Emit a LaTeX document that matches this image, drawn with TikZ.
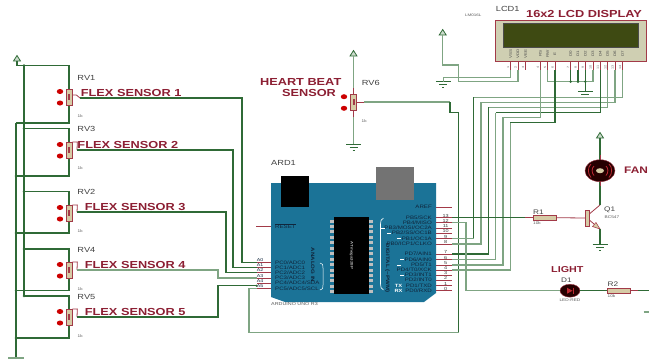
\documentclass[tikz,border=0pt]{standalone}
\usetikzlibrary{shapes.geometric}
\usepackage{fontspec}
\setmainfont[FakeStretch=1.25]{Liberation Sans}
\definecolor{wirecol}{HTML}{2F6A36}
\definecolor{palecol}{HTML}{7FA583}
\definecolor{pincol}{HTML}{A23A48}
\definecolor{titlecol}{HTML}{8C1F33}
\definecolor{bodycol}{HTML}{D6CBA6}
\definecolor{boardcol}{HTML}{1B7397}
\definecolor{boardtext}{HTML}{10263C}
\definecolor{lcdcol}{HTML}{CFCFB2}
\definecolor{screencol}{HTML}{3E4A12}
\begin{document}
\begin{tikzpicture}[
    x=1pt, y=-1pt,
  wire/.style={wirecol, line width=1.1pt},
  palewire/.style={palecol, line width=1.3pt},
  pin/.style={pincol, line width=.8pt},
  potbody/.style={rectangle, draw=pincol, fill=bodycol, line width=.7pt, minimum width=6pt, minimum height=16pt, inner sep=0pt},
  resbody/.style={rectangle, draw=pincol, fill=bodycol, line width=.7pt, minimum width=23pt, minimum height=4.5pt, inner sep=0pt},
  title/.style={text=titlecol, font=\bfseries\fontsize{10.2}{11}\selectfont, inner sep=0pt},
  partname/.style={text=black!75, font=\fontsize{7.4}{8}\selectfont, inner sep=0pt},
  partvalue/.style={text=black!65, font=\fontsize{3.8}{4}\selectfont, inner sep=0pt},
  boardlabel/.style={text=boardtext, font=\fontsize{4.9}{5}\selectfont, inner sep=0pt},
  gndmark/.pic={
    \draw[wirecol, line width=.9pt] (-7.5,0) -- (7.5,0);
    \draw[wirecol, line width=.7pt] (-4,3) -- (4,3);
    \draw[wirecol, line width=.7pt] (-1,6) -- (1,6);
  },
  powermark/.pic={
    \draw[wirecol, line width=.8pt, fill=palecol!40] (-3.5,0) -- (0,-5.5) -- (3.5,0) -- cycle;
  }
]
\useasboundingbox (0,0) rectangle (649,360);

% Rails and power marks
\coordinate (vcca) at (17,61);
\coordinate (gnda) at (16,358);
\coordinate (railb) at (24,65.5);
\coordinate (railc) at (24,296);
\coordinate (raild) at (16,123);
\pic at (vcca) {powermark};
\draw[wire] (vcca) |- (railb);
\draw[wire] (railb) -- (railc);
\draw[wire] (raild) -- (gnda);
\draw[palecol, line width=1.1pt] (8,358) -- (24,358);

% Flex sensor pots
\foreach \name/\ypos/\toprow/\botrow/\tag/\tagy/\valy in {
    rva/97/65.5/123/RV1/77.7/116,
    rvc/150/128.7/176/RV3/129.3/168,
    rvb/213/191.7/233/RV2/192.3/231,
    rvd/270/249/290.6/RV4/250/289,
    rve/317/296/338/RV5/297.3/335.7}{
  \coordinate (\name t) at (24,\toprow);
  \coordinate (\name b) at (16,\botrow);
  \draw[wire] (69,\ypos) |- (\name t);
  \draw[wire] (69,\ypos) |- (\name b);
  \node[potbody] (\name) at (69,\ypos) {};
  \fill[pincol] (68,\ypos-3) rectangle (70,\ypos+3);
  \fill[red!80!black] (60,\ypos-5.5) ellipse (3.2pt and 2.5pt);
  \fill[red!80!black] (60,\ypos+6) ellipse (3.2pt and 2.5pt);
  \node[partname, anchor=west] (\name tag) at (77.3,\tagy) {\tag};
  \node[partvalue, anchor=west] (\name val) at (77.5,\valy) {1k};
  \fill[wirecol] (\name t) circle (1.3pt);
}
\foreach \name in {rvc,rvb,rvd,rve}{
  \fill[wirecol] (\name b) circle (1.3pt);
}

% Heart beat pot
\coordinate (vccb) at (353.5,56);
\coordinate (gndb) at (353.5,144.3);
\node[potbody] (rvf) at (353.5,102.5) {};
\fill[pincol] (352.5,99) rectangle (354.5,105);
\fill[red!80!black] (344,96.7) ellipse (3.2pt and 2.5pt);
\fill[red!80!black] (344,108.3) ellipse (3.2pt and 2.5pt);
\pic at (vccb) {powermark};
\pic at (gndb) {gndmark};
\draw[palewire] (rvf.north) -- (vccb);
\draw[palewire] (rvf.south) -- (gndb);
\draw[pin] (rvf.north) -- ++(0,-6);
\draw[pin] (rvf.south) -- ++(0,6);
\node[partname, anchor=west] (rvftag) at (361.7,82.7) {RV6};
\node[partvalue, anchor=west] (rvfval) at (361.5,121) {1k};
\node[title] (hearta) at (300.7,82) {HEART BEAT};
\node[title] (heartb) at (309,92.5) {SENSOR};

% Sensor titles
\node[title, anchor=west] (flexa) at (80.7,92.7) {FLEX SENSOR 1};
\node[title, anchor=west] (flexb) at (77.3,145) {FLEX SENSOR 2};
\node[title, anchor=west] (flexc) at (84.7,207.3) {FLEX SENSOR 3};
\node[title, anchor=west] (flexd) at (84.7,264.7) {FLEX SENSOR 4};
\node[title, anchor=west] (flexe) at (84.7,312.3) {FLEX SENSOR 5};

% Arduino board
\fill[boardcol] (271,183) -- (436,183) -- (436,293) -- (424,302) -- (285,302) -- (271,297) -- cycle;
\node[rectangle, fill=black, minimum width=28pt, minimum height=31.5pt, inner sep=0pt] (jack) at (295,191.7) {};
\node[rectangle, fill=black!55, minimum width=38.5pt, minimum height=33pt, inner sep=0pt] (usb) at (395,183.5) {};
\node[rectangle, fill=black, minimum width=35pt, minimum height=77pt, inner sep=0pt] (chip) at (351.5,255.5) {};
\node[text=white, rotate=-90, font=\fontsize{3.6}{4}\selectfont, inner sep=0pt] (chiptext) at (351.5,255.5) {ATmega328P};
\foreach \k in {0,...,13}{
  \fill[black!25] (330,219.5+\k*5.45) rectangle (334,222.5+\k*5.45);
  \fill[black!25] (369,219.5+\k*5.45) rectangle (373,222.5+\k*5.45);
}
\node[partname, anchor=west] (ardtag) at (271,163.3) {ARD1};
\node[partvalue, anchor=west, font=\fontsize{4.3}{5}\selectfont] (ardname) at (271,304.5) {ARDUINO UNO R3};
\node[boardlabel, rotate=-90, font=\bfseries\fontsize{4.9}{5}\selectfont] (analog) at (312.7,265) {ANALOG IN};
\node[boardlabel, rotate=-90, font=\bfseries\fontsize{4.9}{5}\selectfont] (digital) at (387.3,268) {DIGITAL (\textasciitilde PWM)};
\draw[white, line width=.5pt] (320,263) .. controls (323,263) and (323,265) .. (323,268) -- (323,285) .. controls (323,288) and (323,290) .. (320,290);
\draw[white, line width=.6pt] (383.5,218) .. controls (381,219) and (380.5,221) .. (380.5,224) -- (380.5,284) .. controls (380.5,287) and (381,289) .. (383.5,290);

% Analog side
\node[boardlabel, anchor=west] (reset) at (275,226) {$\overline{\mbox{RESET}}$};
\coordinate (resetpin) at (256,226);
\draw[pin] (resetpin) -- (271,226);
\foreach \n/\ypos/\txt in {
    0/262.6/{PC0/ADC0},
    1/267.7/{PC1/ADC1},
    2/272.7/{PC2/ADC2},
    3/278/{PC3/ADC3},
    4/283/{PC4/ADC4/SDA},
    5/288.3/{PC5/ADC5/SCL}}{
  \coordinate (a\n) at (257,\ypos);
  \draw[pin] (a\n) -- (271,\ypos);
  \node[boardlabel, anchor=west] (pc\n) at (275,\ypos) {\txt};
  \node[boardlabel, font=\fontsize{4.2}{5}\selectfont] (atag\n) at (260,\ypos-2.4) {A\n};
}

% Digital side
\coordinate (aref) at (452,207);
\draw[pin] (436,207) -- (aref);
\node[boardlabel, anchor=east] (areftag) at (432,207) {AREF};
\foreach \n/\ypos/\txt in {
    13/217.7/{PB5/SCK},
    12/222.7/{PB4/MISO},
    11/228/{PB3/MOSI/OC2A},
    10/233/{PB2/SS/OC1B},
    9/238.7/{PB1/OC1A},
    8/244/{PB0/ICP1/CLKO},
    7/254/{PD7/AIN1},
    6/259.7/{PD6/AIN0},
    5/265/{PD5/T1},
    4/270/{PD4/T0/XCK},
    3/275/{PD3/INT1},
    2/280/{PD2/INT0},
    1/285.7/{PD1/TXD},
    0/290.7/{PD0/RXD}}{
  \coordinate (d\n) at (452,\ypos);
  \draw[pin] (436,\ypos) -- (d\n);
  \node[boardlabel, anchor=east] (pd\n) at (432,\ypos) {\txt};
  \node[boardlabel, text=black!75, font=\fontsize{4.4}{5}\selectfont] (dtag\n) at (445.7,\ypos-2.2) {\n};
}
\node[text=white, font=\bfseries\fontsize{4.6}{5}\selectfont, inner sep=0pt] (txtag) at (398.5,285.7) {TX};
\node[text=white, font=\bfseries\fontsize{4.6}{5}\selectfont, inner sep=0pt] (rxtag) at (398.5,290.9) {RX};
\foreach \xpos/\ypos in {383/228,389/233,399/238.7,402/259.7,399/265,402/275}{
  \draw[white, line width=.6pt] (\xpos-1.7,\ypos) -- (\xpos+1.7,\ypos);
}

% Sensor wires
\coordinate (wipa) at (80,98);
\coordinate (wipb) at (77,150);
\coordinate (wipc) at (77,212);
\coordinate (wipd) at (77,270);
\coordinate (wipe) at (77,317);
\draw[pin] (rva.east) ++(0,-2) -- ++(4,0) -- (wipa);
\draw[pin] (rvc.east) ++(0,-8) -- ++(5,0) -- (wipb);
\draw[pin] (rvb.east) ++(0,-8) -- ++(5,0) -- (wipc);
\draw[pin] (rvd.east) ++(0,-8) -- ++(5,0) -- (wipd);
\draw[pin] (rve.east) ++(0,-8) -- ++(5,0) -- (wipe);
\draw[wire] (wipa) -| (242,262.6) -- (a0);
\draw[wire] (wipb) -| (233,267.7) -- (a1);
\draw[wire] (wipc) -| (226,272.7) -- (a2);
\draw[palewire] (wipd) -| (218,278) -- (a3);
\draw[wire] (wipe) -| (218,285.7) -- (257,285.7);
\fill[wirecol] (256.5,285.7) circle (1.2pt);

% Heart beat wire
\draw[pin] (rvf.east) -- ++(8,0);
\draw[palewire] (364,102) -- (450,102);
\draw[wire] (450,102) |- (458.7,112.7) -- (458.7,332.7);
\draw[palewire] (458.7,332.7) -| (249,288.3) -- (a5);

% LCD
\node[rectangle, draw=pincol, fill=lcdcol, line width=.8pt, minimum width=151pt, minimum height=41pt, inner sep=0pt] (lcd) at (570.5,40.5) {};
\node[rectangle, draw=black!70, fill=screencol, minimum width=135pt, minimum height=24pt, inner sep=0pt] (screen) at (570.3,34.7) {};
\node[partname, anchor=west] (lcdtag) at (495.7,9) {LCD1};
\node[partvalue, anchor=west, font=\fontsize{3.6}{4}\selectfont] (lcdname) at (465,15.7) {LM016L};
\node[title, anchor=west] (lcdtitle) at (526,14) {16x2 LCD DISPLAY};
\foreach \n/\xpos/\txt in {
    1/510.7/VSS, 2/518/VDD, 3/525.7/VEE,
    4/540.3/RS, 5/547.7/RW, 6/555/E,
    7/570.7/D0, 8/578/D1, 9/585.3/D2, 10/593/D3,
    11/600.3/D4, 12/607.7/D5, 13/615/D6, 14/622.7/D7}{
  \coordinate (lp\n) at (\xpos,70);
  \node[rotate=90, text=black!70, font=\fontsize{3.6}{4}\selectfont, inner sep=0pt] (lpname\n) at (\xpos,53.5) {\txt};
  \node[rotate=90, text=black!60, font=\fontsize{3}{3}\selectfont, inner sep=0pt] (lpnum\n) at (\xpos-2.5,67.5) {\n};
}

% LCD supply wires
\coordinate (vccc) at (442.7,35);
\coordinate (gndc) at (443.3,81.7);
\coordinate (gndd) at (585.3,91.7);
\pic at (vccc) {powermark};
\pic at (gndc) {gndmark};
\pic at (gndd) {gndmark};
\draw[palewire] (lp1) |- (443.3,77.3) -- (gndc);
\draw[palewire] (vccc) |- (458.3,65) |- (518,81.7) -- (lp2);
\draw[palewire] (lp5) |- (593,81.7) -- (lp10);
\draw[wire] (lp7) -- (570.7,81.7);
\draw[wire] (lp8) -- (578,81.7);
\draw[wire] (lp9) -- (gndd);
\foreach \xpos in {570.7,578,585.3}{
  \fill[wirecol] (\xpos,81.7) circle (1.3pt);
}

% LCD to board wires
\draw[palewire] (lp14) |- (473.7,97.3);
\draw[wire] (473.7,97.3) -- (473.7,238.7);
\draw[palewire] (473.7,238.7) -- (d9);
\draw[palewire] (lp13) |- (481,102.7) |- (d8);
\draw[palewire] (lp12) |- (488.3,107.3);
\draw[wire] (488.3,107.3) |- (d7);
\draw[wire] (lp11) |- (495.7,112.7);
\draw[palewire] (495.7,112.7) |- (d6);
\draw[palewire] (lp4) |- (503,117.7) |- (d5);
\draw[wire] (lp6) |- (510.3,122.7);
\draw[palewire] (510.3,122.7) |- (d4);
\foreach \n/\xpos in {1/510.7,2/518,3/525.7,4/540.3,5/547.7,6/555,7/570.7,8/578,9/585.3,10/593,11/600.3,12/607.7,13/615,14/622.7}{
  \draw[pin] (\xpos,61) -- (lp\n);
}

% Fan and transistor
\coordinate (vccd) at (600,138);
\coordinate (gnde) at (600,244);
\pic at (vccd) {powermark};
\pic at (gnde) {gndmark};
\draw[wire] (vccd) -- (600,205);
\draw[pin] (600,155) -- (600,186);
\node[ellipse, draw=pincol, fill=black!85!red, minimum width=30pt, minimum height=22pt, inner sep=0pt] (fan) at (600,170.7) {};
\node[ellipse, fill=bodycol, minimum width=8pt, minimum height=5pt, inner sep=0pt] (fanhub) at (600,170.7) {};
\foreach \sgn in {-1,1}{
  \draw[pincol!70!red, line width=.8pt] (600+\sgn*6,166) .. controls (600+\sgn*8.5,168) and (600+\sgn*8.5,173) .. (600+\sgn*6,175.5);
  \draw[pincol!70!red, line width=.8pt] (600+\sgn*9,164) .. controls (600+\sgn*12.5,167) and (600+\sgn*12.5,174) .. (600+\sgn*9,177.5);
}
\node[title, anchor=west, font=\bfseries\fontsize{9.5}{10}\selectfont] (fantag) at (624,170.7) {FAN};
\node[rectangle, draw=pincol, fill=bodycol, line width=.7pt, minimum width=3.5pt, minimum height=16pt, inner sep=0pt] (q1) at (587.5,218) {};
\draw[pin] (589.3,214) -- (600,205);
\draw[pin] (589.3,220) -- (600,229);
\fill[bodycol, draw=pincol, line width=.5pt] (600,229) -- (592.5,226.5) -- (596,222.5) -- cycle;
\draw[wire] (600,229) -- (gnde);
\node[partname, anchor=west, font=\fontsize{6.6}{7}\selectfont] (q1tag) at (604,210) {Q1};
\node[partvalue, anchor=west] (q1val) at (604.5,217) {BC547};

% R1 and base
\node[resbody] (r1) at (544.5,217.7) {};
\node[partname, anchor=west, font=\fontsize{6.6}{7}\selectfont] (r1tag) at (533,212) {R1};
\node[partvalue, anchor=west] (r1val) at (533,223.5) {10k};
\draw[wire] (d13) -- (525,217.7);
\draw[pin] (525,217.7) -- (r1.west);
\draw[pin] (r1.east) -- (q1.west);

% Light branch
\node[title, anchor=west, font=\bfseries\fontsize{8.6}{9}\selectfont] (lighttag) at (551,270) {LIGHT};
\node[ellipse, draw=pincol, fill=black!85!red, minimum width=20pt, minimum height=13pt, inner sep=0pt] (d1) at (570,290.7) {};
\fill[pincol!70!red] (567,287.7) -- (572.5,290.7) -- (567,293.7) -- cycle;
\draw[pincol!70!red, line width=.7pt] (573,287.7) -- (573,293.7);
\node[partname, font=\fontsize{6.6}{7}\selectfont] (d1tag) at (566.5,280) {D1};
\node[partvalue] (d1val) at (570,300) {LED-RED};
\node[resbody] (r2) at (619,290.7) {};
\node[partname, anchor=west, font=\fontsize{6.6}{7}\selectfont] (r2tag) at (607.5,284) {R2};
\node[partvalue, anchor=west] (r2val) at (607.5,296) {10k};
\coordinate (rightend) at (649,290.7);
\draw[palewire] (d12) -| (466,290.7) -- (d1.west);
\draw[wire] (d1.east) -- (r2.west);
\draw[pin] (r2.east) -- ++(7,0);
\draw[wire] (638,290.7) -- (rightend);
\coordinate (stub) at (649,312);
\draw[palewire] (643.5,312) -- (stub);
\end{tikzpicture}
\end{document}
